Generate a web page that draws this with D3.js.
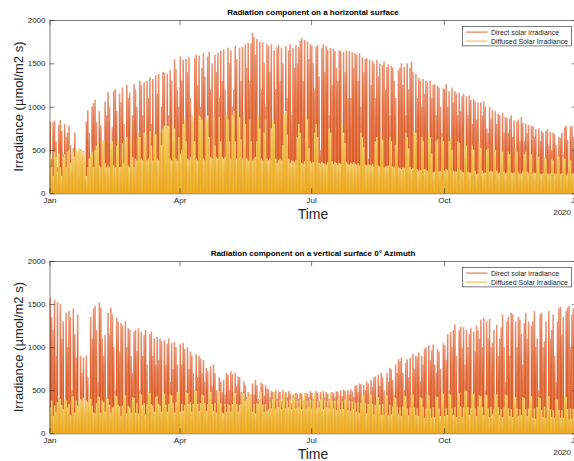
<!DOCTYPE html>
<html><head><meta charset="utf-8">
<script src="https://cdn.jsdelivr.net/npm/d3@7"></script>
<style>body{margin:0;background:#fff}svg{display:block;font-family:"Liberation Sans",Arial,Helvetica,sans-serif}</style>
</head><body><svg id="c" width="574" height="461"></svg>
<script>
const year = 2019;
// Daily peak values (µmol/m2 s), one value per day of 2019
const directH = [
830,400,820,840,600,300,790,845,720,450,800,650,700,780,560,260,520,700,380,480,200,510,430,490,150,830,960,700,400,1000,1040,
1080,820,350,950,780,600,260,1060,900,1170,1000,500,760,1180,1200,950,300,1150,1050,1220,800,450,1250,1100,1160,250,900,1260,
1200,1000,600,1300,1250,900,1280,400,1300,1100,1340,800,1320,500,1360,1150,1380,700,1000,1400,1390,350,1380,900,1420,1300,600,1550,1440,1200,1000,
1580,1300,1540,500,1550,1400,1570,1100,900,400,1560,1600,1250,1590,1000,1450,1620,1350,700,1580,1630,1200,1500,350,1600,1400,1620,1100,1650,1300,
1660,1200,600,1680,1500,1650,1000,1200,1700,1550,900,1680,1300,1690,500,1720,1450,1740,1300,1730,1850,1800,1600,1780,800,1750,1200,1740,1500,1000,1720,
1700,1400,1720,700,1650,1200,1690,1710,1300,1680,1500,400,1700,1100,1650,1720,900,1680,1450,1710,1500,1690,1760,1790,1300,1770,600,1750,1550,1720,
1700,1500,1200,1690,1710,1350,500,1680,1720,1400,1700,1660,900,1680,1250,1670,1640,1450,1300,1650,1640,600,1630,1400,1650,1100,1640,1100,1630,1450,1620,
1600,1300,1620,1000,1570,1400,1550,1560,400,1540,1250,1530,1500,1100,1540,1350,1500,700,1480,1520,1200,1460,1490,900,1470,1450,1300,1100,500,1420,1450,
1500,1250,1460,900,1500,1200,1450,1520,1400,600,1380,1100,1330,1300,1000,1320,1150,1300,1280,450,1300,1100,1250,1260,900,1240,1220,1000,700,1210,
1200,1260,1000,1180,600,1220,1050,1180,1150,900,1160,950,1120,1150,400,1120,900,1130,1080,800,1090,1060,850,1050,350,1050,900,1060,1000,750,700,
1000,850,960,500,950,800,920,900,300,930,700,880,870,700,860,900,650,840,400,830,850,600,880,810,600,800,700,790,250,780,
770,650,740,400,750,600,720,700,300,720,740,550,710,500,700,680,560,200,650,640,700,450,760,780,620,300,770,780,650,700,350];
const diffuseH = [
450,300,200,480,420,250,460,300,200,420,450,300,480,500,350,450,480,420,500,480,520,500,460,480,420,200,300,400,450,480,300,
500,550,600,320,300,600,620,350,300,320,300,580,600,320,300,550,620,300,300,580,350,600,650,320,300,650,420,300,
400,380,700,650,400,380,700,650,380,400,720,550,380,720,680,400,380,700,560,750,780,750,780,780,400,380,780,750,400,380,650,
450,500,800,850,600,400,380,420,900,820,600,400,380,900,880,850,400,380,850,900,650,420,400,900,550,420,400,880,600,420,
400,420,920,850,600,400,900,950,600,400,950,880,620,400,880,800,400,380,850,600,380,400,420,600,900,750,400,380,700,850,400,
380,400,750,850,800,400,350,380,400,380,560,920,950,680,400,350,380,370,360,380,650,800,700,350,340,370,900,850,520,370,
350,360,700,800,650,350,340,360,350,340,330,360,750,700,370,340,360,350,330,350,340,780,700,580,360,340,330,350,340,360,340,
330,350,320,700,650,530,330,320,340,330,320,340,310,600,650,320,310,700,620,300,310,310,320,650,600,310,300,560,680,300,290,
280,300,290,700,650,520,300,280,290,720,700,280,260,270,650,600,280,270,260,700,650,460,240,250,600,620,250,260,650,600,
260,280,270,600,650,500,260,250,250,600,580,270,250,240,620,550,250,240,240,550,500,260,220,230,580,520,260,230,240,500,520,
250,260,250,550,500,260,230,240,500,480,250,230,240,480,450,240,230,240,520,480,240,220,230,250,450,480,250,230,480,450,
230,240,230,450,420,230,220,230,420,400,230,220,230,400,380,230,220,450,420,220,230,420,400,210,230,400,380,220,230,400,380];
const directV = [
1580,1350,1200,1550,900,1520,400,1500,1100,1300,300,1400,1000,1420,1350,500,1450,1150,880,1380,200,900,700,880,300,900,650,400,1350,1100,1450,
1480,1200,600,1520,1460,1100,900,1140,300,1400,1150,1460,1380,1000,500,1340,1300,950,1280,1250,400,1300,1000,1220,1200,900,700,1180,
1200,950,1220,500,1180,900,1140,1200,800,350,1150,1180,900,1100,800,1120,850,1100,1070,300,1080,800,1040,1100,600,1050,750,1060,1000,800,400,
1040,800,1050,980,500,1000,750,950,900,700,300,920,650,900,870,700,850,600,760,720,400,780,550,800,700,500,350,650,600,480,
620,450,700,680,500,720,690,300,700,550,660,650,480,400,600,560,420,480,410,450,580,450,620,560,400,300,590,570,440,560,520,
510,420,490,480,250,500,400,490,480,380,500,200,480,420,490,460,350,450,300,470,460,400,470,460,380,350,470,460,420,490,
470,400,300,490,470,380,480,250,490,420,480,460,400,300,480,470,420,490,480,400,500,430,510,490,300,500,450,510,490,420,550,
560,480,580,570,350,560,500,600,580,300,620,540,650,660,400,680,550,700,650,500,300,700,600,760,740,620,450,800,700,860,840,
880,700,500,820,860,650,880,350,920,750,900,880,940,600,900,800,980,1000,400,1020,850,960,1030,800,700,980,950,750,300,1050,
1020,850,1150,500,1180,1000,1200,1260,900,400,1200,1240,1000,1230,800,1200,1000,1150,1220,300,1180,950,1250,1200,1100,1320,1000,1340,500,1300,1100,
1330,1000,1050,1200,300,1260,900,1100,1230,1380,1000,600,1300,1350,900,1400,1380,400,1300,1000,1350,1320,1150,800,1280,1400,1100,1300,200,1250,
1300,1420,1000,1100,500,1380,1400,1000,1070,1300,300,1420,1100,1200,1380,900,600,1300,1450,1470,1150,1350,350,1420,1460,1480,1000,1380,1450,900,1400];
const diffuseV = [
300,380,200,320,250,360,420,400,330,280,400,380,300,340,210,420,430,240,380,320,350,400,380,410,300,380,360,420,400,320,240,
230,350,430,420,240,380,360,250,420,400,330,240,300,310,440,430,330,310,200,320,450,440,230,320,300,240,420,410,
240,350,230,460,450,330,350,220,340,480,470,340,320,250,420,430,340,320,250,470,460,330,250,340,450,440,350,240,360,480,480,
250,340,260,330,480,470,340,360,250,340,500,490,340,260,350,450,440,350,260,340,490,480,340,260,350,240,500,490,350,240,
230,340,250,340,330,250,340,480,470,340,250,330,340,470,460,380,400,420,460,430,250,340,230,350,340,490,480,330,250,340,260,
280,370,290,400,480,290,380,300,390,280,400,470,290,380,300,390,280,400,460,290,380,300,390,280,400,470,290,380,300,390,
290,380,470,290,380,300,390,480,280,390,300,380,290,460,380,290,380,270,390,440,280,370,280,390,450,270,380,260,370,280,360,
250,360,240,350,450,440,350,230,340,460,450,340,220,330,430,420,330,210,340,220,450,440,210,330,220,310,420,410,310,220,300,
200,310,440,430,290,210,300,460,450,300,210,290,200,420,410,300,180,290,450,440,290,180,300,190,430,420,290,200,470,460,
200,290,210,460,450,290,210,300,190,480,470,310,190,300,500,490,300,210,290,470,460,290,200,310,440,430,300,210,450,440,290,
190,300,220,280,460,450,300,210,280,190,300,450,440,290,200,280,190,430,420,290,200,280,210,420,410,280,200,290,440,430,
180,290,170,300,420,410,270,190,310,180,440,430,280,190,270,180,400,390,270,180,270,180,430,420,280,160,290,170,280,380,370];
const yTicks = [0, 500, 1000, 1500, 2000];
const titles = ["Radiation component on a horizontal surface", "Radiation component on a vertical surface 0° Azimuth"];
const seriesNames = ["Direct solar irradiance", "Diffused Solar Irradiance"];
const colors = ["#D95319", "#EDB120"];
const yLabel = "Irradiance (\u00b5mol/m2 s)";
const xLabel = "Time";
const yearLabel = "2020";

const svg = d3.select("#c");
const defs = svg.append("defs");
function grad(id, stops) {
  const g = defs.append("linearGradient").attr("id", id).attr("x1", 0).attr("y1", 0).attr("x2", 0).attr("y2", 1);
  stops.forEach(s => g.append("stop").attr("offset", s[0]).attr("stop-color", s[1]));
}
grad("gD", [[0, "#EA9779"], [0.35, "#E06838"], [1, "#D95319"]]);
grad("gY", [[0, "#F5D470"], [0.4, "#F0C045"], [1, "#EDB120"]]);

const L = 49.5, R = 577;
const x = d3.scaleTime().domain([new Date(year, 0, 1), new Date(year + 1, 0, 1)]).range([L, R]);
const ink = "#262626";

function panel(top, bottom, direct, diffuse, title) {
  const y = d3.scaleLinear().domain([0, 2000]).range([bottom, top]);
  const g = svg.append("g");
  const clip = "clip" + Math.round(top);
  defs.append("clipPath").attr("id", clip).append("rect").attr("x", L).attr("y", top).attr("width", R - L).attr("height", bottom - top);
  const plot = g.append("g").attr("clip-path", `url(#${clip})`);
  [[direct, "url(#gD)", 1.6], [diffuse, "url(#gY)", 1.5]].forEach(([arr, fill, bw]) => {
    plot.append("g").selectAll("rect").data(arr).join("rect")
      .attr("x", (v, i) => x(new Date(year, 0, 1 + i, 12)) - bw / 2)
      .attr("width", bw)
      .attr("y", v => y(v))
      .attr("height", v => y(0) - y(v))
      .attr("fill", fill);
  });
  const style = sel => {
    sel.selectAll("path").attr("stroke", ink).attr("stroke-width", 0.6);
    sel.selectAll("line").attr("stroke", ink).attr("stroke-width", 0.6);
    sel.selectAll("text").attr("fill", ink).style("font-size", "8px").style("font-family", '"Liberation Sans",Arial,sans-serif');
  };
  const xb = g.append("g").attr("transform", `translate(0,${bottom})`)
    .call(d3.axisBottom(x).ticks(d3.timeMonth.every(3)).tickFormat(d3.timeFormat("%b")).tickSizeInner(-5).tickSizeOuter(0).tickPadding(4));
  style(xb);
  const xt = g.append("g").attr("transform", `translate(0,${top})`)
    .call(d3.axisTop(x).ticks(d3.timeMonth.every(3)).tickFormat("").tickSizeInner(-5).tickSizeOuter(0));
  style(xt);
  const yl = g.append("g").attr("transform", `translate(${L},0)`)
    .call(d3.axisLeft(y).tickValues(yTicks).tickFormat(d3.format("d")).tickSizeInner(-5).tickSizeOuter(0).tickPadding(4));
  style(yl);
  const yr = g.append("g").attr("transform", `translate(${R},0)`)
    .call(d3.axisRight(y).tickValues(yTicks).tickFormat("").tickSizeInner(-5).tickSizeOuter(0));
  style(yr);
  g.append("text").attr("x", 571).attr("y", bottom + 21.5).attr("text-anchor", "end")
    .attr("fill", ink).style("font-size", "8px").text(yearLabel);
  g.append("text").attr("x", 313).attr("y", top - 4.7).attr("text-anchor", "middle")
    .attr("fill", "#000").style("font-size", "8px").style("font-weight", "bold").text(title);
  g.append("text").attr("x", 313).attr("y", bottom + 25.5).attr("text-anchor", "middle")
    .attr("fill", ink).style("font-size", "14px").text(xLabel);
  g.append("text").attr("transform", `translate(18,${(top + bottom) / 2}) rotate(-90)`).attr("dy", "0.35em")
    .attr("text-anchor", "middle").attr("fill", ink).style("font-size", "13px").text(yLabel);
  const lg = g.append("g").attr("transform", `translate(462.5,${top + 6.3})`);
  lg.append("rect").attr("width", 109).attr("height", 19.6).attr("fill", "#fff").attr("stroke", ink).attr("stroke-width", 0.6);
  seriesNames.forEach((n, i) => {
    const ry = 5.8 + i * 9;
    lg.append("line").attr("x1", 3.5).attr("x2", 25).attr("y1", ry).attr("y2", ry).attr("stroke", colors[i]).attr("stroke-width", 0.9);
    lg.append("text").attr("x", 28.5).attr("y", ry).attr("dy", "0.35em").attr("fill", ink).style("font-size", "7px").text(n);
  });
}
panel(20, 193.3, directH, diffuseH, titles[0]);
panel(261, 433.3, directV, diffuseV, titles[1]);
</script></body></html>
